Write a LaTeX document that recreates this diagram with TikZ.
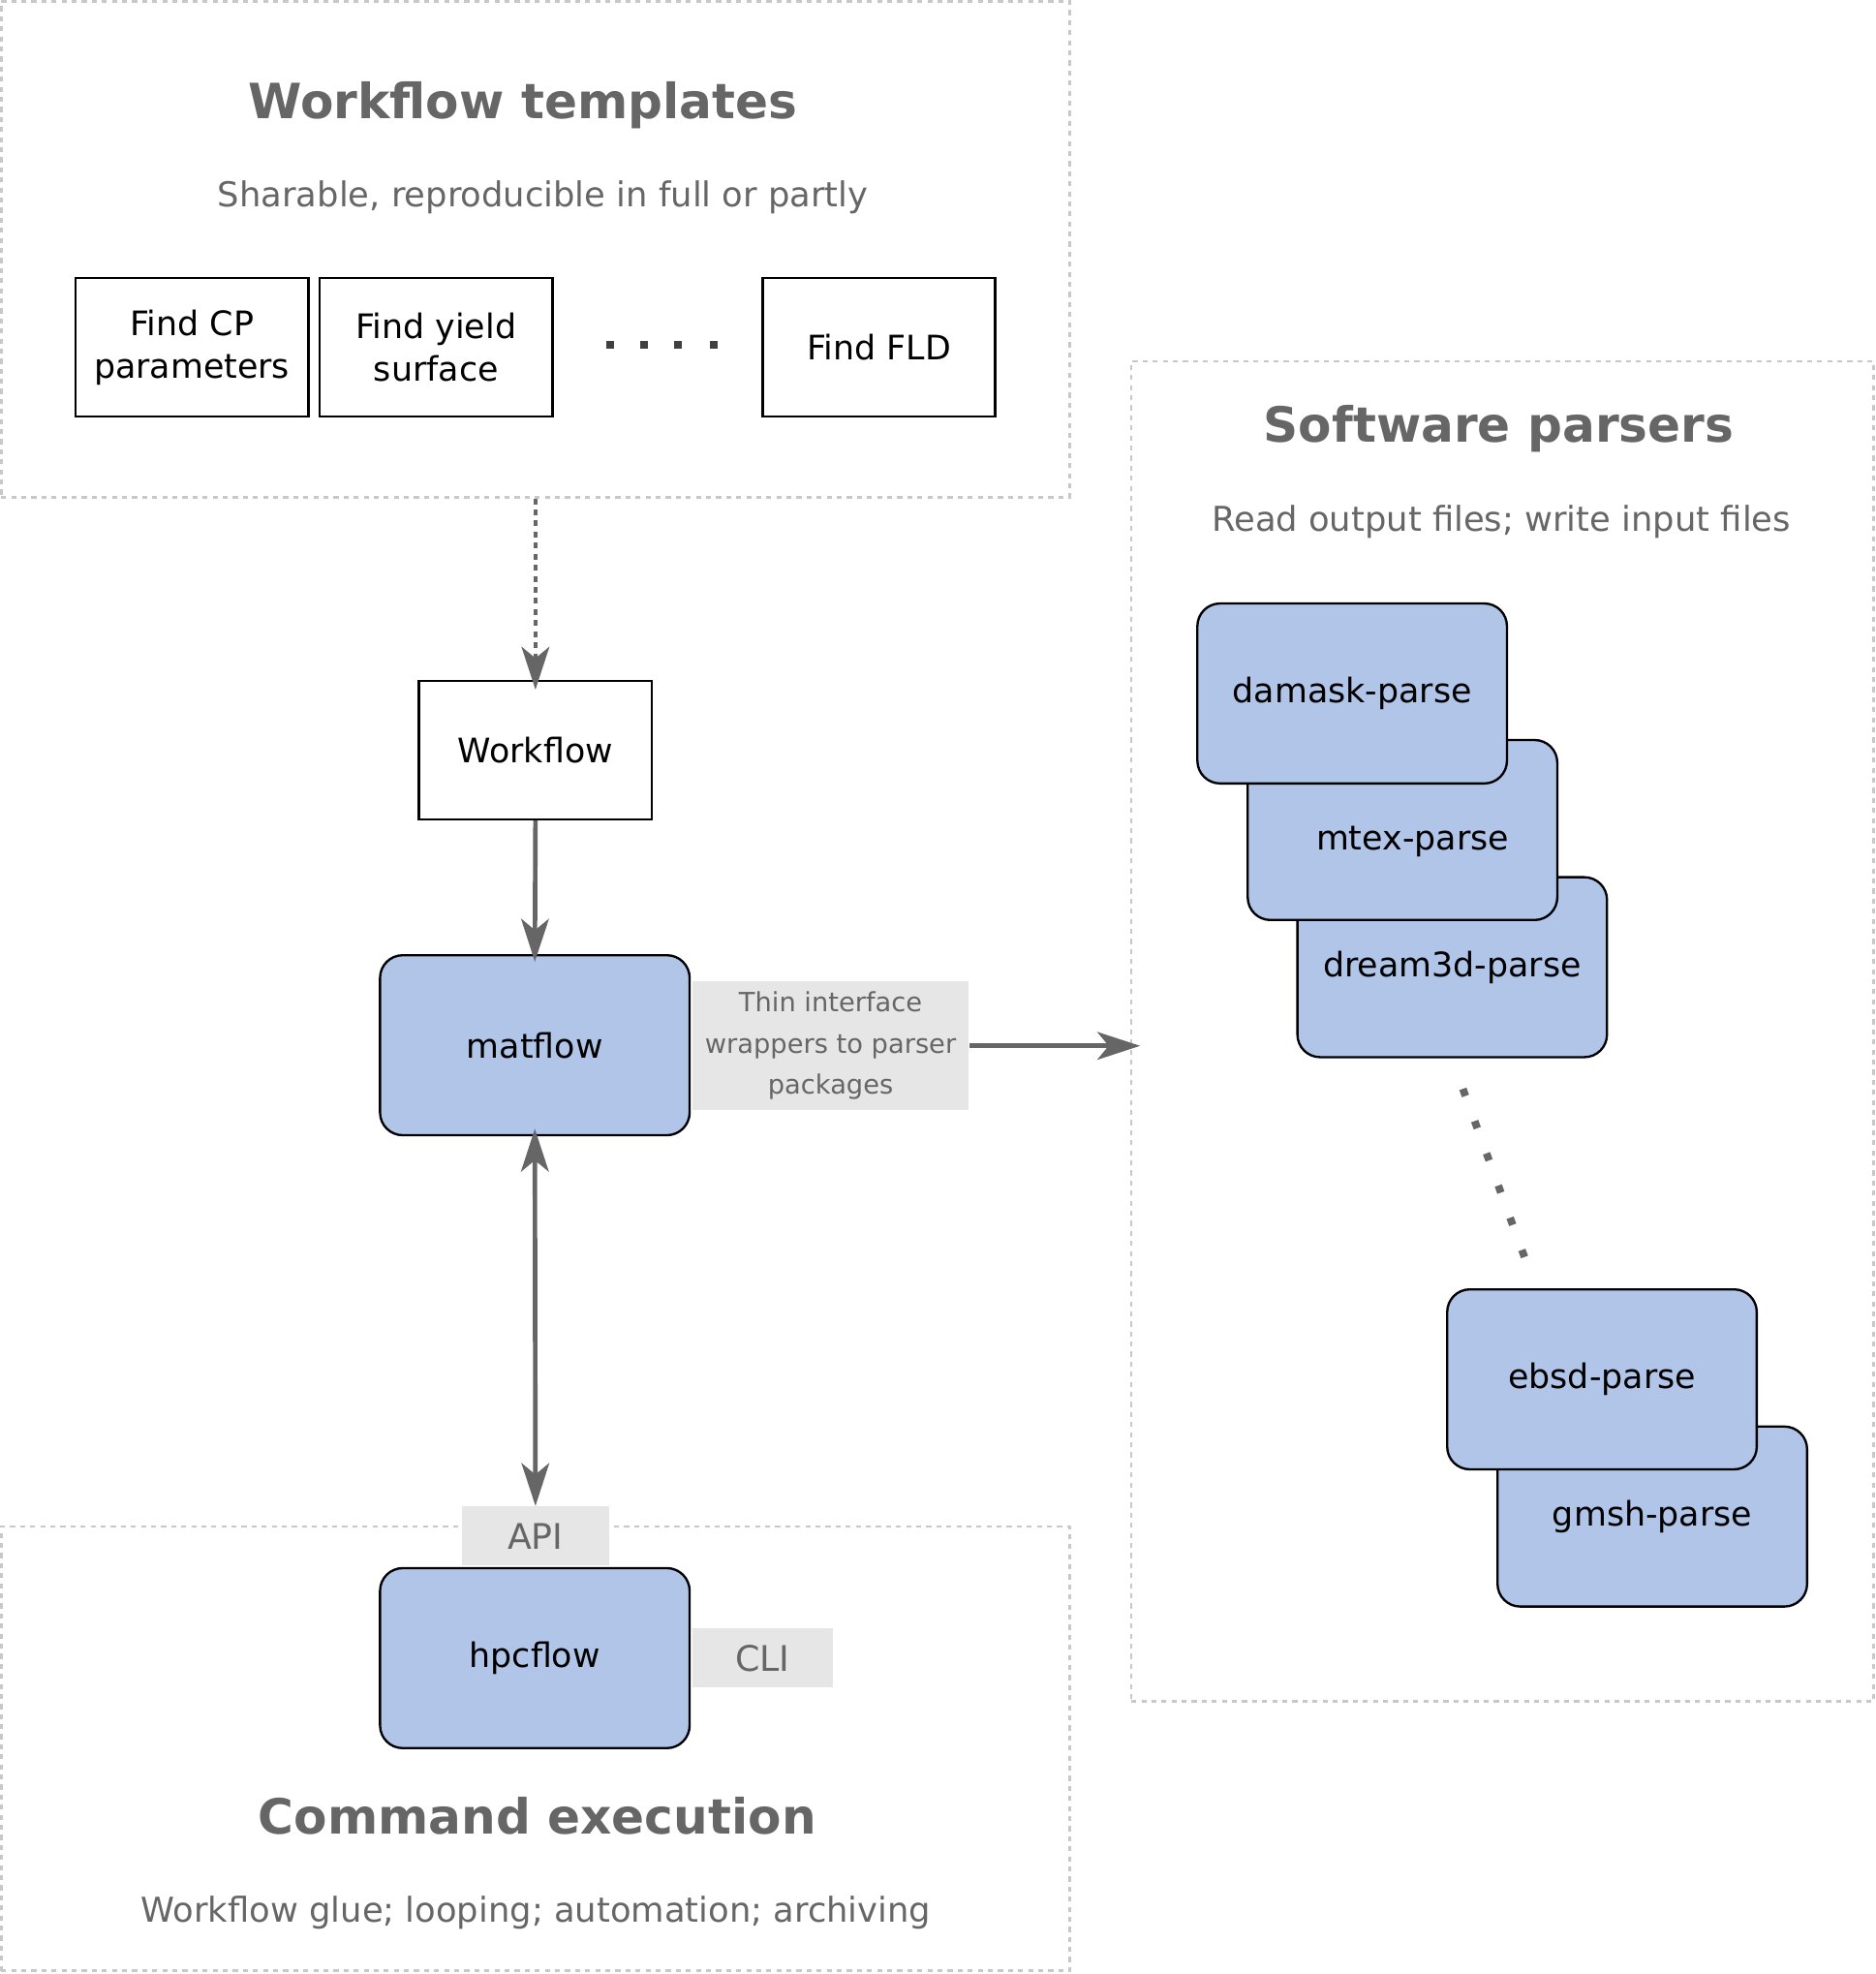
\documentclass[tikz,border=0pt]{standalone}
\usepackage{fontspec}
\setmainfont{DejaVu Sans}
\usetikzlibrary{arrows.meta,positioning}

\definecolor{pkgblue}{HTML}{B0C5E8}
\definecolor{txtgray}{HTML}{666666}
\definecolor{grpgray}{HTML}{C8C8C8}
\definecolor{lblbg}{HTML}{E6E6E6}

\tikzset{
  grp/.style={draw=grpgray, line width=1pt, dash pattern=on 2pt off 2pt, inner sep=0pt},
  tmplbox/.style={draw=black, line width=1pt, minimum width=92.5pt, minimum height=55pt,
    inner sep=2pt, align=center, font=\fontsize{13.4}{17}\selectfont},
  pkg/.style={draw=black, fill=pkgblue, rounded corners=9pt, line width=0.9pt,
    minimum width=123pt, minimum height=71.5pt, font=\fontsize{13.4}{17}\selectfont},
  lbl/.style={fill=lblbg, text=txtgray, inner sep=0pt, align=center},
  ttl/.style={text=txtgray, anchor=base, font=\bfseries\fontsize{19.3}{23}\selectfont},
  sub/.style={text=txtgray, anchor=base, font=\fontsize{13.6}{17}\selectfont},
  pdot/.style={fill=txtgray, minimum size=3pt, inner sep=0pt},
  flow/.style={draw=txtgray, line width=1.8pt, -{Stealth[length=17pt,width=11pt,inset=4.5pt]}},
}

\begin{document}
\begin{tikzpicture}[x=0.5pt, y=-0.5pt]
  \useasboundingbox (0,0) rectangle (1490,1568.5);

  % groups
  \node[grp, minimum width=424.5pt, minimum height=197pt] (tmplgrp) at (425.5,198) {};
  \node[grp, minimum width=424.5pt, minimum height=176.5pt] (cmdgrp) at (425.5,1389.5) {};
  \node[grp, minimum width=295pt, minimum height=532.5pt] (parsegrp) at (1194,819.5) {};

  \node[ttl] (tmplttl) at (415.5,94.5) {Workflow templates};
  \node[sub] (tmplsub) at (431.5,164.5) {Sharable, reproducible in full or partly};
  \node[ttl] (parsettl) at (1191,351.5) {Software parsers};
  \node[sub] (parsesub) at (1193,422.5) {Read output files; write input files};
  \node[ttl] (cmdttl) at (427,1457.5) {Command execution};
  \node[sub] (cmdsub) at (426,1527.5) {Workflow glue; looping; automation; archiving};

  % workflow templates
  \node[tmplbox] (findcp) at (152.5,276) {Find CP\\parameters};
  \node[tmplbox] (findys) at (346.5,276) {Find yield\\surface};
  \node[tmplbox] (findfld) at (698.5,276) {Find FLD};
  \foreach \x in {485,512,539,567}
    \node[pdot, fill=black!75] at (\x,274) {};

  \node[tmplbox] (wf) at (425.5,596) {Workflow};

  % matflow and hpcflow
  \node[pkg] (matflow) at (425,830.5) {matflow};
  \node[lbl, minimum width=110pt, minimum height=51pt,
    font=\fontsize{10.5}{16.3}\selectfont] (thin) at (660,831)
    {Thin interface\\wrappers to parser\\packages};
  \node[pkg] (hpcflow) at (425,1317.5) {hpcflow};
  \node[lbl, minimum width=58.5pt, minimum height=23.5pt,
    font=\fontsize{14}{17}\selectfont] (api) at (425.5,1220.5) {API};
  \node[lbl, minimum width=56pt, minimum height=23.5pt,
    font=\fontsize{14}{17}\selectfont] (cli) at (606,1317.5) {CLI};

  % parsers, back to front
  \node[pkg] (gmsh) at (1313,1205) {gmsh-parse};
  \node[pkg] (ebsd) at (1273,1096) {ebsd-parse};
  \node[pkg] (dream) at (1154,768.5) {dream3d-parse};
  \node[pkg] (mtex) at (1114.5,659.5) {};
  \node[font=\fontsize{13.4}{17}\selectfont] (mtextxt) at ([xshift=4pt,yshift=-4.5pt]mtex.center) {mtex-parse};
  \node[pkg] (damask) at (1074.5,551) {damask-parse};
  \foreach \i in {0,...,5}
    \node[pdot, rotate=20] at ({1163.5+\i*9.38},{868+\i*25.6}) {};

  % connectors
  \draw[flow, dash pattern=on 2.3pt off 2.1pt] (tmplgrp.south) -- ([yshift=-4pt]wf.north);
  \draw[flow] (wf.south) -- ([yshift=-3pt]matflow.north);
  \draw[flow] (thin.east) -- ([xshift=4pt]parsegrp.west |- thin.east);
  \draw[flow, {Stealth[length=17pt,width=11pt,inset=4.5pt]}-{Stealth[length=17pt,width=11pt,inset=4.5pt]}]
    ([yshift=3pt]matflow.south) -- (api.north);
\end{tikzpicture}
\end{document}
